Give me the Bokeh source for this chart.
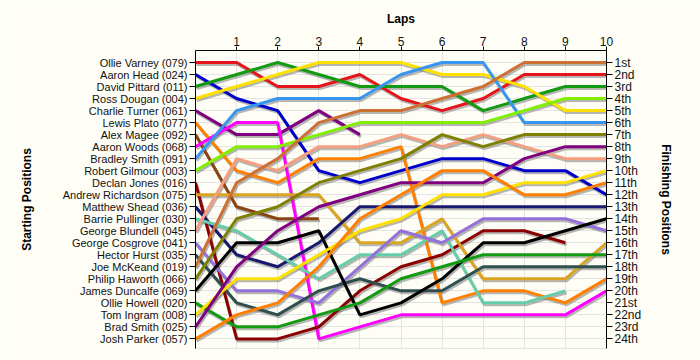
from bokeh.plotting import figure
from bokeh.models import Range1d, LinearAxis, FixedTicker
from bokeh.embed import file_html
from bokeh.resources import INLINE

laps = list(range(11))
drivers = ["Ollie Varney (079)", "Aaron Head (024)", "David Pittard (011)", "Ross Dougan (004)",
           "Charlie Turner (061)", "Lewis Plato (077)", "Alex Magee (092)", "Aaron Woods (068)",
           "Bradley Smith (091)", "Robert Gilmour (003)", "Declan Jones (016)", "Andrew Richardson (075)",
           "Matthew Shead (036)", "Barrie Pullinger (030)", "George Blundell (045)", "George Cosgrove (041)",
           "Hector Hurst (035)", "Joe McKeand (019)", "Philip Haworth (066)", "James Duncalfe (069)",
           "Ollie Howell (020)", "Tom Ingram (008)", "Brad Smith (025)", "Josh Parker (057)"]
positions = [
    [1, 1, 3, 3, 2, 4, 5, 4, 2, 2, 2],
    [2, 4, 5, 10, 11, 10, 9, 9, 10, 10, 12],
    [3, 2, 1, 2, 3, 3, 3, 5, 4, 3, 3],
    [4, 3, 2, 1, 1, 1, 2, 2, 3, 5, 5],
    [5, 7, 7, 5, 7],
    [6, 10, 11, 9, 9, 8, 21, 20, 20, 21, 19],
    [7, 13, 14, 14],
    [8, 6, 6, 24, 23, 22, 22, 22, 22, 22, 20],
    [9, 5, 4, 4, 4, 2, 1, 1, 6, 6, 6],
    [10, 8, 8, 7, 6, 6, 6, 6, 5, 4, 4],
    [11, 24, 24, 23, 20, 18, 17, 15, 15, 16],
    [12, 12, 12, 12, 16, 16, 14, 19, 19, 19, 16],
    [13, 17, 18, 16, 13, 13, 13, 13, 13, 13, 13],
    [14, 15, 17, 19, 17, 17, 15, 21, 21, 20],
    [15, 9, 10, 8, 8, 7, 8, 7, 8, 9, 9],
    [16, 20, 20, 21, 18, 15, 16, 14, 14, 14, 15],
    [17, 21, 22, 20, 19, 20, 20, 18, 18, 18, 18],
    [18, 11, 9, 6, 5, 5, 4, 3, 1, 1, 1],
    [19, 14, 13, 11, 10, 9, 7, 8, 7, 7, 7],
    [20, 16, 16, 15, 22, 21, 19, 16, 16, 15, 14],
    [21, 23, 23, 22, 21, 19, 18, 17, 17, 17, 17],
    [22, 19, 19, 17, 15, 14, 12, 12, 11, 11, 10],
    [23, 18, 15, 13, 12, 11, 11, 11, 9, 8, 8],
    [24, 22, 21, 18, 14, 12, 10, 10, 12, 12, 11],
]
colors = ["#E8141C", "#0000CD", "#139A13", "#FFE100", "#800080", "#FF8000", "#8B4513", "#FF00FF",
          "#3797F0", "#80F000", "#8B0000", "#DAA520", "#191970", "#66CDAA", "#F4A080", "#9370DB",
          "#2F4F4F", "#CC7033", "#808000", "#000000", "#139A13", "#FFE100", "#800080", "#FF8000"]
finish_labels = ["1st", "2nd", "3rd", "4th", "5th", "6th", "7th", "8th", "9th", "10th", "11th", "12th",
                 "13th", "14th", "15th", "16th", "17th", "18th", "19th", "20th", "21st", "22nd", "23rd", "24th"]

BG = "#FEFEF6"
FONT = "Liberation Sans"
ymax = 24.8

p = figure(width=700, height=360, x_range=Range1d(0, 10), y_range=Range1d(ymax, 0),
           x_axis_location="above", y_axis_location="left",
           output_backend="svg", toolbar_location=None,
           min_border_left=195, min_border_right=94, min_border_top=50, min_border_bottom=12,
           background_fill_color=BG, border_fill_color=BG, outline_line_color="#E4E4E4")

# shadow ranges: same data, shifted by ~1px right / ~2px down
dx = 1.2 * 10 / 411
dy = 2.0 * ymax / 298
p.extra_x_ranges = {"sh": Range1d(0 - dx, 10 - dx)}
p.extra_y_ranges = {"sh": Range1d(ymax - dy, 0 - dy)}

for pos in positions:
    p.line(laps[:len(pos)], pos, x_range_name="sh", y_range_name="sh",
           line_color="#7A7A7A", line_alpha=0.55, line_width=3)
for pos, c in zip(positions, colors):
    p.line(laps[:len(pos)], pos, line_color=c, line_width=3)

# top axis
xa = p.xaxis[0]
xa.ticker = FixedTicker(ticks=laps[1:])
xa.axis_label = "Laps"
xa.axis_label_text_font = FONT
xa.axis_label_text_font_style = "bold"
xa.axis_label_text_font_size = "12px"
xa.axis_label_standoff = 8
xa.major_label_text_font = FONT
xa.major_label_text_font_size = "12px"
xa.major_label_standoff = 1
xa.major_tick_out = 4
xa.major_tick_in = 0
xa.minor_tick_out = 0
xa.minor_tick_in = 0

# left axis
ya = p.yaxis[0]
ya.ticker = FixedTicker(ticks=list(range(1, 25)))
ya.major_label_overrides = {i + 1: n for i, n in enumerate(drivers)}
ya.axis_label = "Starting Positions"
ya.axis_label_standoff = 26

ra = LinearAxis(ticker=FixedTicker(ticks=list(range(1, 25))),
                major_label_overrides={i + 1: n for i, n in enumerate(finish_labels)},
                axis_label="Finishing Positions", axis_label_standoff=15)
p.add_layout(ra, "right")

for ax in (ya, ra):
    ax.axis_label_text_font = FONT
    ax.axis_label_text_font_style = "bold"
    ax.axis_label_text_font_size = "12px"
    ax.major_label_text_font = FONT
    ax.major_label_text_font_size = "11px" if ax is ya else "12px"
    ax.major_label_standoff = 2
    ax.major_tick_out = 6
    ax.major_tick_in = 0
    ax.minor_tick_out = 0
    ax.minor_tick_in = 0

for ax in (xa, ya, ra):
    ax.axis_line_color = "black"
    ax.major_tick_line_color = "black"
    ax.major_label_text_color = "#111111"
    ax.axis_label_text_color = "black"

p.xgrid.grid_line_color = "#E4E4E4"
p.ygrid.grid_line_color = "#E4E4E4"

open("out.html", "w").write(file_html(p, INLINE))
